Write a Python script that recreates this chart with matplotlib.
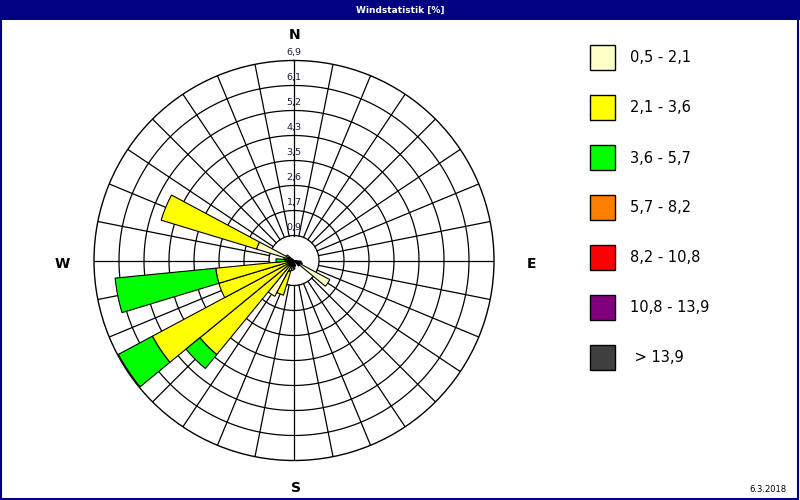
import numpy as np
import matplotlib
matplotlib.use('Agg')
import matplotlib.pyplot as plt
from matplotlib.patches import Rectangle

# 32 direction sectors, clockwise from north
directions = np.arange(32) * 11.25

# share of time [%] per wind speed class and direction sector
c1 = [0, 0, 0, 0, 0, 0, 0, 0, 0, 0.25, 0.3, 1.4, 0.25, 0, 0, 0.2,
      0.3, 0.35, 0.4, 1.4, 0.2, 0.2, 0.2, 0.2, 0.3, 0.35, 1.35, 0.3, 0, 0, 0, 0]
c2 = [0, 0, 0, 0, 0, 0, 0, 0, 0, 0, 0, 0, 0, 0, 0, 0,
      0, 0, 0.85, 0, 4.0, 5.34, 2.51, 2.51, 0, 0, 3.44, 0, 0, 0, 0, 0]
c3 = [0, 0, 0, 0, 0, 0, 0, 0, 0, 0, 0, 0, 0, 0, 0, 0,
      0, 0, 0, 0, 0.62, 1.33, 0, 3.49, 0.32, 0, 0, 0, 0, 0, 0, 0]
c4 = [0] * 32
c5 = [0] * 32
c6 = [0] * 32
c7 = [0] * 32
classes = [c1, c2, c3, c4, c5, c6, c7]

class_labels = ['0,5 - 2,1', '2,1 - 3,6', '3,6 - 5,7', '5,7 - 8,2',
                '8,2 - 10,8', '10,8 - 13,9', ' > 13,9']
class_colors = ['#ffffc8', '#ffff00', '#00ff00', '#ff8000',
                '#ff0000', '#800080', '#404040']

rmax = 6.9
ring_values = np.arange(1, 9) * rmax / 8
ring_labels = ['0,9', '1,7', '2,6', '3,5', '4,3', '5,2', '6,1', '6,9']

W, H = 800, 500
fig = plt.figure(figsize=(8, 5), dpi=100)
fig.patch.set_facecolor('white')


def fx(x):
    return x / W


def fy(y):
    return 1 - y / H


# title band and frame
fig.patches.append(Rectangle((0, fy(20)), 1, 20 / H, transform=fig.transFigure,
                             facecolor='#000080', edgecolor='none', zorder=0))
fig.patches.append(Rectangle((0.001, 0.002), 0.997, 0.996, transform=fig.transFigure,
                             facecolor='none', edgecolor='#000080', lw=1.5, zorder=5))
fig.text(0.5, fy(10), 'Windstatistik [%]', color='white', fontsize=6.5,
         fontweight='bold', ha='center', va='center')

# polar rose: centre (294, 260.5), radius 200 px
ax = fig.add_axes([fx(94), fy(460.5), 400 / W, 400 / H], projection='polar')
ax.set_theta_zero_location('N')
ax.set_theta_direction(-1)
ax.set_ylim(0, rmax)
ax.grid(False)
ax.set_xticks([])
ax.set_yticks([])
ax.spines['polar'].set_color('black')
ax.spines['polar'].set_linewidth(1.0)

t = np.linspace(0, 2 * np.pi, 400)
for r in ring_values[:-1]:
    ax.plot(t, np.full_like(t, r), color='black', lw=0.9, zorder=1)
for d in directions:
    a = np.deg2rad(d)
    ax.plot([a, a], [ring_values[0], rmax], color='black', lw=0.9, zorder=1)

theta = np.deg2rad(directions)
width = 2 * np.pi / 32
bottom = np.zeros(32)
for vals, col in zip(classes, class_colors):
    vals = np.array(vals)
    mask = vals > 0
    ax.bar(theta[mask], vals[mask], width=width, bottom=bottom[mask],
           color=col, edgecolor='black', linewidth=0.8, zorder=3)
    bottom = bottom + vals

for r, lab in zip(ring_values, ring_labels):
    ax.text(0, r + 0.26, lab, fontsize=6.8, color='#1a1a40',
            ha='center', va='center', zorder=4)

# compass letters
for s, x, y in [('N', 295, 35), ('S', 296, 488), ('W', 62, 264), ('E', 531, 264)]:
    fig.text(fx(x), fy(y), s, fontsize=10, fontweight='bold',
             ha='center', va='center')

# legend
for i, (lab, col) in enumerate(zip(class_labels, class_colors)):
    top = 45 + 50 * i
    fig.patches.append(Rectangle((fx(590), fy(top + 25)), 25 / W, 25 / H,
                                 transform=fig.transFigure, facecolor=col,
                                 edgecolor='black', lw=1.0))
    fig.text(fx(630), fy(top + 13), lab, fontsize=10.5, ha='left', va='center')

fig.text(fx(786), fy(489), '6.3.2018', fontsize=6, ha='right', va='center')

fig.savefig('out.png', dpi=100)
